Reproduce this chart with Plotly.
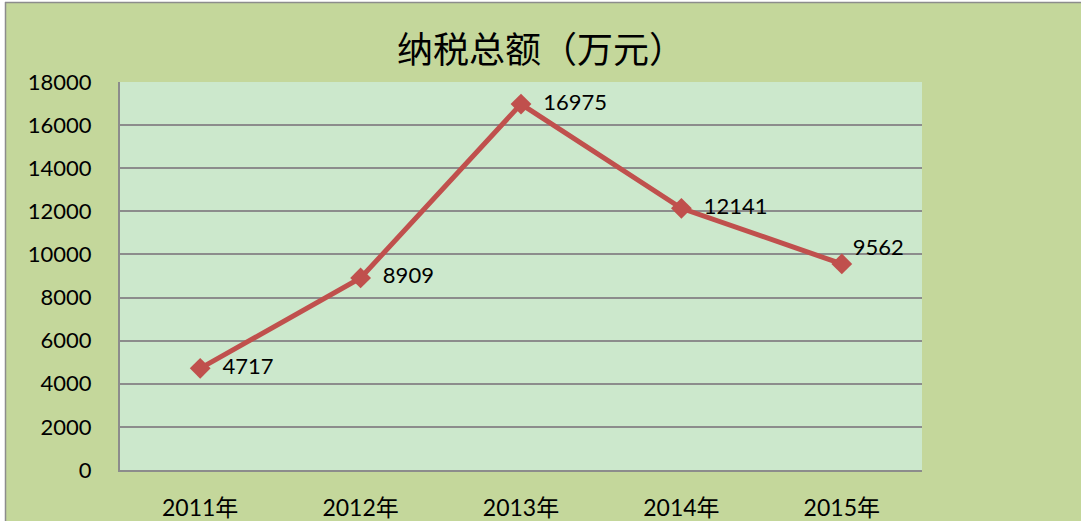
import plotly.graph_objects as go

categories = ["2011年", "2012年", "2013年", "2014年", "2015年"]
values = [4717, 8909, 16975, 12141, 9562]
label_prefix = ["  ", "  ", "  ", "  ", ""]
label_suffix = ["", "", "", "", "<br> "]
title_text = "纳税总额（万元）"

W, H = 1081, 521
L, R, T, B = 120, 922, 82, 470

fig = go.Figure()
fig.add_trace(go.Scatter(
    x=categories, y=values,
    mode="lines+markers+text",
    line=dict(color="#C0504D", width=5),
    marker=dict(symbol="diamond", size=16, color="#C0504D"),
    text=[p + str(v) + s for p, v, s in zip(label_prefix, values, label_suffix)],
    textposition="middle right",
    textfont=dict(family="Lato, Noto Sans CJK SC", size=22, color="#000000"),
    cliponaxis=False,
    hoverinfo="skip",
))

def px_to_paper_x(px):
    return (px - L) / (R - L)

def py_to_paper_y(py):
    return (B - py) / (B - T)

shapes = [
    dict(type="rect", xref="paper", yref="paper", x0=px_to_paper_x(0), x1=px_to_paper_x(5),
         y0=py_to_paper_y(H), y1=py_to_paper_y(0), fillcolor="white", line=dict(width=0), layer="below"),
    dict(type="rect", xref="paper", yref="paper", x0=px_to_paper_x(0), x1=px_to_paper_x(W),
         y0=py_to_paper_y(2), y1=py_to_paper_y(0), fillcolor="white", line=dict(width=0), layer="below"),
    dict(type="line", xref="paper", yref="paper", x0=px_to_paper_x(5.5), x1=px_to_paper_x(5.5),
         y0=py_to_paper_y(H), y1=py_to_paper_y(2), line=dict(color="#8C8C8C", width=1.5)),
    dict(type="line", xref="paper", yref="paper", x0=px_to_paper_x(5), x1=px_to_paper_x(W),
         y0=py_to_paper_y(2.5), y1=py_to_paper_y(2.5), line=dict(color="#8C8C8C", width=1.5)),
]

fig.update_layout(
    width=W, height=H, autosize=False,
    margin=dict(l=L, r=W - R, t=T, b=H - B, pad=0, autoexpand=False),
    paper_bgcolor="#C4D79B",
    plot_bgcolor="#CCE8CC",
    showlegend=False,
    shapes=shapes,
    title=dict(text=title_text, x=541 / W, xanchor="center", y=1 - 50 / H, yanchor="middle",
               font=dict(family="Noto Sans CJK SC", size=36, color="#000000")),
    xaxis=dict(
        type="category", range=[-0.5, 4.5], automargin=False,
        showgrid=False, showline=True, linecolor="#8C8C8C", linewidth=2,
        ticks="", ticklabelstandoff=16,
        tickfont=dict(family="Lato, Noto Sans CJK SC", size=23, color="#000000"),
        fixedrange=True,
    ),
    yaxis=dict(
        range=[0, 18000], tickvals=list(range(0, 18001, 2000)), tickformat="d",
        automargin=False,
        showgrid=True, gridcolor="#8C8C8C", gridwidth=2,
        showline=True, linecolor="#8C8C8C", linewidth=2,
        zeroline=False, ticks="", ticklabelstandoff=22,
        tickfont=dict(family="Lato", size=22, color="#000000"),
        fixedrange=True,
    ),
)

fig.write_html(
    "out.html",
    config={"responsive": False, "displayModeBar": False},
    post_script="document.body.style.margin='0';document.body.style.overflow='hidden';",
)
